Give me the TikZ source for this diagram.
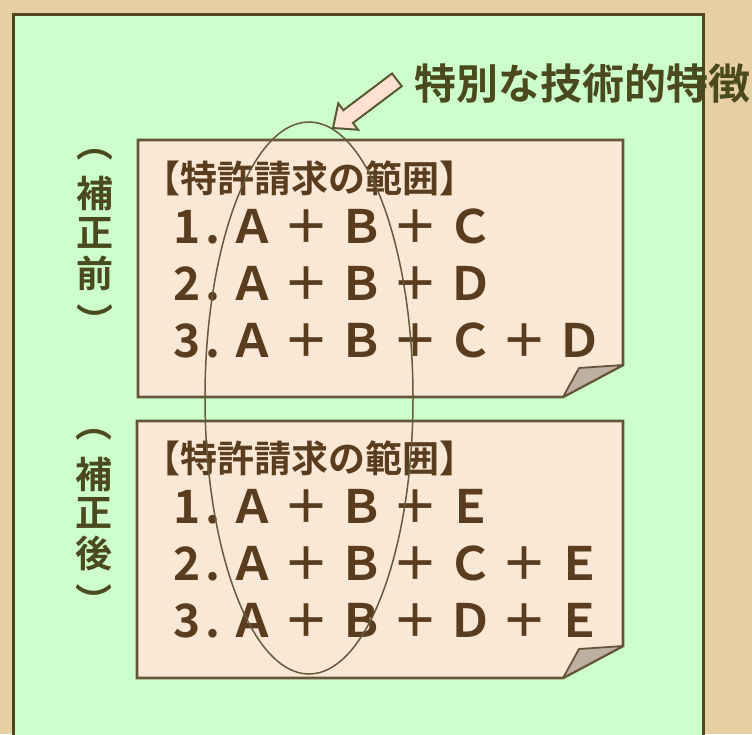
\documentclass[tikz,border=0pt]{standalone}
\usepackage{fontspec}
\newfontfamily\jp{Noto Sans CJK JP}[BoldFont={Noto Sans CJK JP Bold}]
\definecolor{parch}{HTML}{E6CFA3}
\definecolor{panel}{HTML}{CCFFCC}
\definecolor{panelline}{HTML}{504620}
\definecolor{notefill}{HTML}{FAE8D7}
\definecolor{noteline}{HTML}{64553A}
\definecolor{tbrown}{HTML}{5A3C1E}
\definecolor{olive}{HTML}{4B4A1E}
\definecolor{ellline}{HTML}{645A3C}
\definecolor{arrline}{HTML}{5A5A32}
\definecolor{arrfill}{HTML}{FDE2D4}
\definecolor{foldfill}{HTML}{BEAFA0}
\newcommand\mytok[1]{\makebox[54.5pt]{#1}}
\newcommand\mynum[1]{\makebox[26pt]{#1}\makebox[24.75pt]{.}}
\tikzset{
  notebox/.style={draw=noteline, line width=2.6pt, fill=notefill, line join=miter},
  foldtri/.style={draw=noteline, line width=1.8pt, fill=foldfill, line join=round},
  headtext/.style={inner sep=0pt, text=tbrown, font=\jp\bfseries\fontsize{37}{40}\selectfont},
  claim/.style={anchor=base west, inner sep=0pt, text=tbrown, font=\jp\bfseries\fontsize{46}{46}\selectfont},
  vlabel/.style={inner sep=0pt, text=olive, font=\jp\bfseries\fontsize{37}{37}\selectfont},
}
\begin{document}
\begin{tikzpicture}[x=1pt,y=-1pt]
\useasboundingbox (0,0) rectangle (752,734);
\fill[parch] (0,0) rectangle (752,734);
\begin{scope}
\clip (0,0) rectangle (752,734);
\draw[draw=panelline, line width=3pt, fill=panel] (13,14) rectangle (703,770);
\end{scope}

% upper note
\draw[notebox] (138,140) -- (623,140) -- (623,365) -- (563,397) -- (138,397) -- cycle;
\draw[foldtri] (563,397) -- (579,368) -- (623,365) -- cycle;
% lower note
\draw[notebox] (137,421) -- (623,421) -- (623,646) -- (563,678) -- (137,678) -- cycle;
\draw[foldtri] (563,678) -- (579,649) -- (623,646) -- cycle;

% texts upper
\node[headtext] (h1) at (309.5,178) {【特許請求の範囲】};
\node[claim] (u1) at (174,243) {\mynum{1}\mytok{Ａ}\mytok{＋}\mytok{Ｂ}\mytok{＋}\mytok{Ｃ}};
\node[claim] (u2) at (174,300) {\mynum{2}\mytok{Ａ}\mytok{＋}\mytok{Ｂ}\mytok{＋}\mytok{Ｄ}};
\node[claim] (u3) at (174,357) {\mynum{3}\mytok{Ａ}\mytok{＋}\mytok{Ｂ}\mytok{＋}\mytok{Ｃ}\mytok{＋}\mytok{Ｄ}};
% texts lower
\node[headtext] (h2) at (309.5,458) {【特許請求の範囲】};
\node[claim] (l1) at (174,523) {\mynum{1}\mytok{Ａ}\mytok{＋}\mytok{Ｂ}\mytok{＋}\mytok{Ｅ}};
\node[claim] (l2) at (174,580) {\mynum{2}\mytok{Ａ}\mytok{＋}\mytok{Ｂ}\mytok{＋}\mytok{Ｃ}\mytok{＋}\mytok{Ｅ}};
\node[claim] (l3) at (174,637) {\mynum{3}\mytok{Ａ}\mytok{＋}\mytok{Ｂ}\mytok{＋}\mytok{Ｄ}\mytok{＋}\mytok{Ｅ}};

% vertical labels
\node[vlabel] (bp1) at (95,155) {︵};
\node[vlabel] (bp2) at (95,194) {補};
\node[vlabel] (bp3) at (95,233) {正};
\node[vlabel] (bp4) at (95,273) {前};
\node[vlabel] (bp5) at (95,320) {︶};
\node[vlabel] (ap1) at (94,435) {︵};
\node[vlabel] (ap2) at (94,475) {補};
\node[vlabel] (ap3) at (94,513) {正};
\node[vlabel] (ap4) at (94,553) {後};
\node[vlabel] (ap5) at (94,600) {︶};

% ellipse
\draw[draw=ellline, line width=1.5pt] (309,398) ellipse [x radius=104pt, y radius=276pt];

% block arrow
\draw[draw=arrline, line width=2pt, fill=arrfill, line join=miter, shift={(333,128)}, rotate=37]
  (0,0) -- (19,16.5) -- (19,8) -- (80,8) -- (80,-8) -- (19,-8) -- (19,-16.5) -- cycle;

% label
\node[inner sep=0pt, text=olive, font=\jp\bfseries\fontsize{42}{42}\selectfont] (lab) at (582.5,84) {特別な技術的特徴};
\end{tikzpicture}
\end{document}
